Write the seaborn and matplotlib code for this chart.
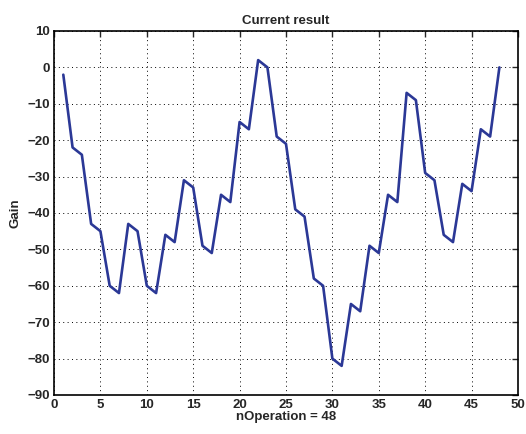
import matplotlib
matplotlib.use("Agg")
import matplotlib.pyplot as plt
import seaborn as sns
import pandas as pd

# Gain recorded after each operation
operation = list(range(1, 49))
gain = [-2, -22, -24, -43, -45, -60, -62, -43, -45, -60,
        -62, -46, -48, -31, -33, -49, -51, -35, -37, -15,
        -17, 2, 0, -19, -21, -39, -41, -58, -60, -80,
        -82, -65, -67, -49, -51, -35, -37, -7, -9, -29,
        -31, -46, -48, -32, -34, -17, -19, 0]
x_ticks = list(range(0, 51, 5))
y_ticks = list(range(-90, 11, 10))

df = pd.DataFrame({"nOperation": operation, "Gain": gain})

sns.set_style("white")
plt.rcParams["font.family"] = ["Liberation Sans", "DejaVu Sans"]
plt.rcParams["font.weight"] = "bold"

fig = plt.figure(figsize=(5.26, 4.34), dpi=100)
ax = fig.add_axes([0.1027, 0.0899, 0.882, 0.8387])

sns.lineplot(data=df, x="nOperation", y="Gain", ax=ax,
             color="#2b3896", linewidth=1.9)

ax.set_xlim(0, 50)
ax.set_ylim(-90, 10)
ax.set_xticks(x_ticks)
ax.set_yticks(y_ticks)
ax.grid(True, linestyle=(0, (1, 3.5)), color="black", linewidth=0.7)
ax.tick_params(direction="in", top=True, right=True, length=4,
               width=1, labelsize=9.5, pad=3)
for lbl in ax.get_xticklabels() + ax.get_yticklabels():
    lbl.set_fontweight("bold")
for spine in ax.spines.values():
    spine.set_color("black")
    spine.set_linewidth(1.2)

ax.set_title("Current result", fontsize=9.5, fontweight="bold", pad=5)
ax.set_xlabel("nOperation = 48", fontsize=9.5, fontweight="bold", labelpad=0)
ax.set_ylabel("Gain", fontsize=9.5, fontweight="bold", labelpad=4)

fig.savefig("out.png", dpi=100)
